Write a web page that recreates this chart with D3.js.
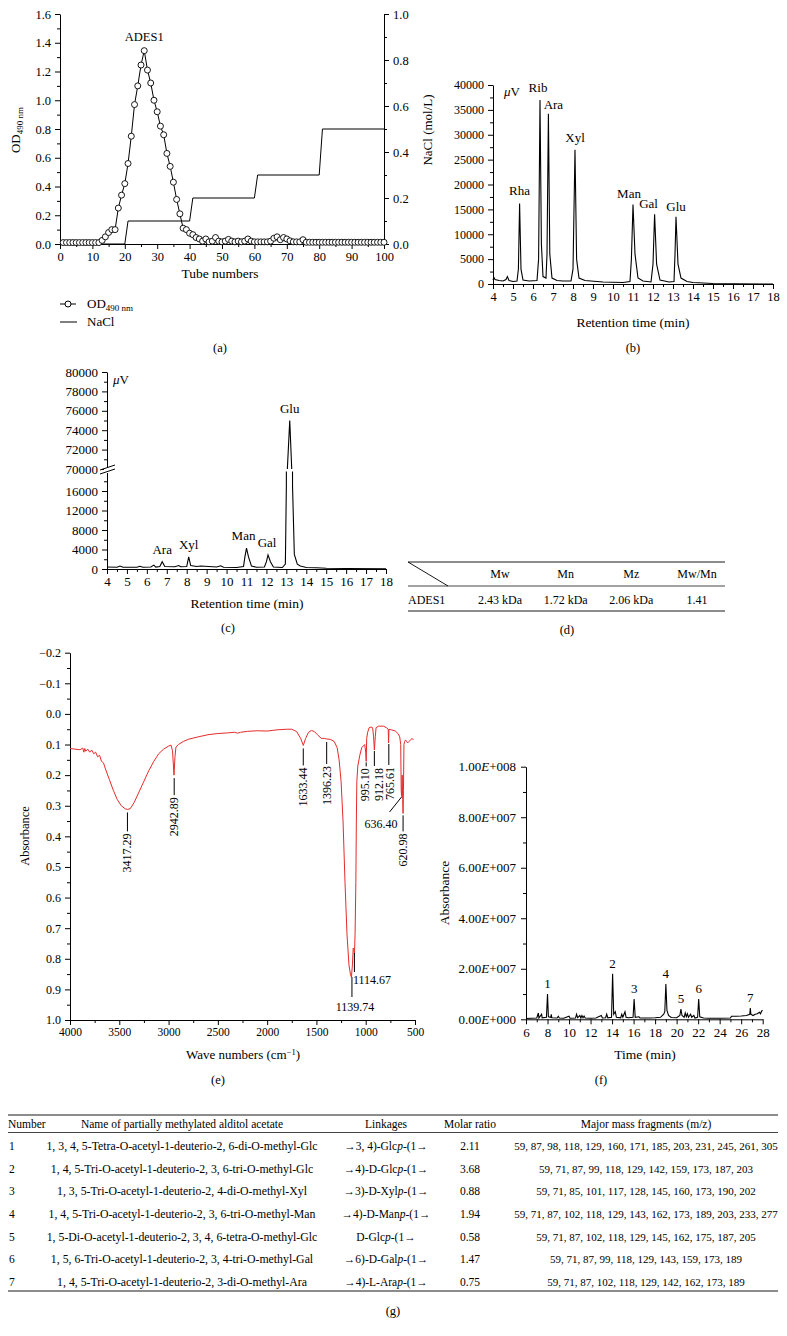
<!DOCTYPE html>
<html lang="en">
<head>
<meta charset="UTF-8">
<title>ADES1 characterisation</title>
<script src="https://d3js.org/d3.v7.min.js"></script>
<style>
  body { margin: 0; background: #fff; }
  svg { display: block; }
</style>
</head>
<body>
<script>
// ---------- (a) elution profile ----------
var odTubes = d3.range(1, 101);
var odValues = [0.01, 0.01, 0.01, 0.01, 0.01, 0.01, 0.01, 0.01, 0.01, 0.01,
  0.01, 0.01, 0.025, 0.05, 0.08, 0.10, 0.10, 0.25, 0.34, 0.42,
  0.56, 0.75, 0.97, 1.10, 1.245, 1.345, 1.21, 1.12, 1.00, 0.92,
  0.82, 0.76, 0.63, 0.54, 0.43, 0.31, 0.21, 0.11, 0.10, 0.075,
  0.065, 0.045, 0.035, 0.02, 0.035, 0.015, 0.02, 0.045, 0.02, 0.015,
  0.02, 0.032, 0.02, 0.015, 0.02, 0.015, 0.02, 0.035, 0.02, 0.015,
  0.015, 0.015, 0.015, 0.015, 0.02, 0.04, 0.05, 0.03, 0.045, 0.035,
  0.022, 0.015, 0.015, 0.015, 0.03, 0.012, 0.012, 0.012, 0.012, 0.012,
  0.012, 0.012, 0.012, 0.012, 0.012, 0.012, 0.012, 0.012, 0.012, 0.012,
  0.012, 0.012, 0.012, 0.012, 0.012, 0.012, 0.012, 0.012, 0.012, 0.012];
var naclTubes = [0, 20, 21, 40, 41, 60, 61, 80, 81, 100];
var naclConc = [0, 0, 0.1, 0.1, 0.2, 0.2, 0.3, 0.3, 0.5, 0.5];

// ---------- (b) monosaccharide standards ----------
var stdTime = [4.0, 4.05, 4.1, 4.3, 4.5, 4.65, 4.72, 4.8, 5.0, 5.2, 5.27, 5.33, 5.4, 5.5, 5.8,
  6.2, 6.28, 6.35, 6.42, 6.5, 6.65, 6.7, 6.77, 6.84, 6.95, 7.2, 7.5, 7.9, 8.0, 8.1, 8.18, 8.3,
  8.6, 9.5, 10.5, 10.85, 10.92, 11.0, 11.1, 11.25, 11.5, 11.9, 12.0, 12.08, 12.18, 12.35, 12.8,
  13.05, 13.1, 13.15, 13.25, 13.4, 13.7, 14.0, 15.0, 16.0, 18.0];
var stdSignal = [800, 1300, 900, 700, 600, 900, 1500, 700, 500, 600, 3000, 16200, 3000, 800, 600,
  700, 5000, 37000, 8000, 1500, 1200, 6000, 34200, 6000, 1200, 700, 600, 600, 3000, 27000, 5000, 1200,
  700, 400, 300, 500, 5000, 16000, 6000, 1200, 600, 400, 4000, 14000, 4000, 800, 400,
  500, 6000, 13500, 4000, 1200, 500, 300, 100, 50, 0];
var stdNames = ["Rha", "Rib", "Ara", "Xyl", "Man", "Gal", "Glu"];
var stdPeakTime = [5.33, 6.35, 6.77, 8.1, 11.0, 12.08, 13.15];
var stdPeakSignal = [16200, 37000, 34200, 27000, 16000, 14000, 13500];

// ---------- (c) ADES1 hydrolysate ----------
var sampTime = [4.0, 4.5, 4.65, 4.8, 5.5, 5.65, 5.8, 6.2, 6.35, 6.45, 6.65, 6.77, 6.9, 7.4, 7.6, 7.7,
  8.0, 8.1, 8.2, 8.5, 8.7, 9.5, 9.7, 9.85, 10.5, 10.85, 10.92, 11.0, 11.1, 11.25, 11.5, 11.9, 12.0,
  12.08, 12.2, 12.35, 12.8, 12.95, 13.0, 13.02, 13.05, 13.17, 13.27, 13.29, 13.31, 13.4, 13.55,
  13.7, 14.0, 14.5, 15.0, 16.0, 18.0];
var sampSignal = [400, 350, 600, 350, 350, 550, 350, 400, 800, 400, 500, 1500, 500, 450, 700, 450,
  500, 2500, 700, 500, 600, 400, 650, 350, 300, 500, 2500, 4300, 2500, 600, 350, 400, 1500,
  2900, 1500, 400, 300, 1000, 17000, 60000, 70000, 75000, 70000, 60000, 17000, 3000, 1000,
  600, 300, 250, 150, 100, 50];
var sampNames = ["Ara", "Xyl", "Man", "Gal", "Glu"];
var sampPeakTime = [6.77, 8.1, 11.0, 12.08, 13.17];
var sampPeakSignal = [1500, 2500, 4300, 2900, 75000];

// ---------- (d) molecular weight ----------
var mwHeaders = ["Mw", "Mn", "Mz", "Mw/Mn"];
var mwValues = ["2.43 kDa", "1.72 kDa", "2.06 kDa", "1.41"];

// ---------- (e) FT-IR ----------
var irWave = [4000, 3950, 3900, 3870, 3860, 3850, 3840, 3820, 3800, 3780, 3760, 3740, 3720, 3700,
  3680, 3660, 3640, 3600, 3560, 3520, 3480, 3440, 3417, 3390, 3350, 3300, 3250, 3200, 3150, 3100,
  3050, 3000, 2975, 2960, 2945, 2935, 2925, 2900, 2850, 2800, 2700, 2600, 2500, 2400, 2330, 2300,
  2270, 2200, 2100, 2000, 1950, 1900, 1800, 1750, 1700, 1660, 1633, 1610, 1580, 1550, 1520, 1490,
  1450, 1420, 1396, 1360, 1320, 1290, 1270, 1250, 1230, 1210, 1190, 1170, 1155, 1145, 1135, 1127,
  1120, 1114, 1108, 1100, 1095, 1090, 1080, 1060, 1040, 1010, 1000, 995, 990, 980, 965, 945, 930,
  920, 912, 903, 895, 870, 820, 790, 772, 768, 764, 740, 700, 670, 655, 645, 640, 636, 630, 625,
  621, 617, 612, 605, 595, 585, 575, 560, 545, 530, 517];
var irAbs = [0.113, 0.115, 0.117, 0.112, 0.125, 0.113, 0.122, 0.115, 0.125, 0.118, 0.13, 0.125, 0.14, 0.135,
  0.155, 0.16, 0.18, 0.215, 0.25, 0.28, 0.3, 0.31, 0.312, 0.31, 0.29, 0.255, 0.22, 0.185, 0.155, 0.13,
  0.115, 0.105, 0.102, 0.12, 0.2, 0.14, 0.108, 0.1, 0.09, 0.083, 0.075, 0.068, 0.064, 0.062, 0.06, 0.063,
  0.06, 0.057, 0.055, 0.056, 0.054, 0.052, 0.05, 0.05, 0.058, 0.08, 0.103, 0.08, 0.06, 0.054, 0.058, 0.068,
  0.08, 0.08, 0.082, 0.083, 0.09, 0.11, 0.15, 0.22, 0.35, 0.55, 0.72, 0.82, 0.85, 0.86, 0.82, 0.765,
  0.77, 0.785, 0.72, 0.55, 0.35, 0.22, 0.17, 0.135, 0.11, 0.1, 0.125, 0.155, 0.08, 0.06, 0.045, 0.043, 0.045,
  0.075, 0.118, 0.075, 0.045, 0.04, 0.04, 0.045, 0.05, 0.095, 0.05, 0.052, 0.056, 0.065, 0.075, 0.1, 0.25, 0.27, 0.2, 0.28,
  0.325, 0.25, 0.1, 0.09, 0.085, 0.09, 0.095, 0.09, 0.085, 0.08, 0.085];
var irLabels = ["3417.29", "2942.89", "1633.44", "1396.23", "995.10", "912.18", "765.61", "620.98"];
var irLabelAbs = [0.312, 0.2, 0.103, 0.082, 0.155, 0.118, 0.095, 0.325];
var irLabel636 = "636.40";
var irLabel1139 = "1139.74";
var irLabel1114 = "1114.67";

// ---------- (f) GC-MS ----------
var gcTime = [6.0, 6.5, 7.0, 7.15, 7.2, 7.45, 7.5, 7.9, 8.0, 8.08, 8.3, 8.35, 8.4, 8.9, 9.0, 9.1, 9.5,
  10.0, 10.1, 10.6, 10.7, 10.8, 11.0, 11.1, 11.2, 11.3, 11.4, 11.5, 12.0, 12.5, 13.0, 13.1, 13.4, 13.5,
  13.6, 13.95, 14.05, 14.15, 14.3, 14.4, 14.8, 14.9, 15.0, 15.2, 15.3, 15.5, 15.95, 16.05, 16.15, 16.5,
  16.6, 17.0, 17.5, 18.0, 18.5, 18.8, 18.9, 19.0, 19.1, 19.25, 19.5, 20.0, 20.3, 20.4, 20.5, 20.7, 20.8,
  20.9, 21.0, 21.1, 21.3, 21.4, 21.6, 21.7, 21.95, 22.05, 22.15, 22.5, 23.0, 24.0, 25.0, 25.1, 25.5, 26.0,
  26.5, 26.8, 26.85, 26.9, 27.1, 27.3, 27.5, 27.7, 27.8, 27.9, 28.0];
var gcAbs = [0.03e7, 0.04e7, 0.05e7, 0.25e7, 0.05e7, 0.2e7, 0.06e7, 0.08e7, 1.0e7, 0.1e7, 0.08e7, 0.2e7, 0.06e7, 0.05e7, 0.12e7, 0.05e7, 0.04e7,
  0.12e7, 0.04e7, 0.05e7, 0.2e7, 0.06e7, 0.15e7, 0.05e7, 0.15e7, 0.06e7, 0.13e7, 0.05e7, 0.04e7, 0.05e7, 0.15e7, 0.05e7, 0.06e7, 0.2e7,
  0.06e7, 0.08e7, 1.8e7, 0.2e7, 0.3e7, 0.08e7, 0.06e7, 0.2e7, 0.08e7, 0.3e7, 0.08e7, 0.06e7, 0.08e7, 0.8e7, 0.08e7, 0.1e7,
  0.05e7, 0.05e7, 0.05e7, 0.06e7, 0.08e7, 0.2e7, 0.3e7, 1.4e7, 0.35e7, 0.15e7, 0.07e7, 0.06e7, 0.15e7, 0.4e7, 0.15e7, 0.08e7, 0.25e7,
  0.1e7, 0.22e7, 0.08e7, 0.2e7, 0.08e7, 0.15e7, 0.05e7, 0.08e7, 0.8e7, 0.1e7, 0.05e7, 0.04e7, 0.04e7, 0.05e7, 0.12e7, 0.12e7, 0.13e7,
  0.15e7, 0.2e7, 0.45e7, 0.2e7, 0.15e7, 0.2e7, 0.22e7, 0.28e7, 0.22e7, 0.33e7, 0.35e7];
var gcPeakNo = ["1", "2", "3", "4", "5", "6", "7"];
var gcPeakTime = [8.0, 14.05, 16.05, 19.0, 20.4, 22.05, 26.85];
var gcPeakAbs = [1.0e7, 1.8e7, 0.8e7, 1.4e7, 0.4e7, 0.8e7, 0.45e7];

// ---------- (g) methylation table ----------
var gNumbers = ["1", "2", "3", "4", "5", "6", "7"];
var gNames = [
  "1, 3, 4, 5-Tetra-O-acetyl-1-deuterio-2, 6-di-O-methyl-Glc",
  "1, 4, 5-Tri-O-acetyl-1-deuterio-2, 3, 6-tri-O-methyl-Glc",
  "1, 3, 5-Tri-O-acetyl-1-deuterio-2, 4-di-O-methyl-Xyl",
  "1, 4, 5-Tri-O-acetyl-1-deuterio-2, 3, 6-tri-O-methyl-Man",
  "1, 5-Di-O-acetyl-1-deuterio-2, 3, 4, 6-tetra-O-methyl-Glc",
  "1, 5, 6-Tri-O-acetyl-1-deuterio-2, 3, 4-tri-O-methyl-Gal",
  "1, 4, 5-Tri-O-acetyl-1-deuterio-2, 3-di-O-methyl-Ara"];
var gLinkages = ["\u21923, 4)-Glc", "\u21924)-D-Glc", "\u21923)-D-Xyl", "\u21924)-D-Man", "D-Glc", "\u21926)-D-Gal", "\u21924)-L-Ara"];
var gMolar = ["2.11", "3.68", "0.88", "1.94", "0.58", "1.47", "0.75"];
var gFragments = [
  "59, 87, 98, 118, 129, 160, 171, 185, 203, 231, 245, 261, 305",
  "59, 71, 87, 99, 118, 129, 142, 159, 173, 187, 203",
  "59, 71, 85, 101, 117, 128, 145, 160, 173, 190, 202",
  "59, 71, 87, 102, 118, 129, 143, 162, 173, 189, 203, 233, 277",
  "59, 71, 87, 102, 118, 129, 145, 162, 175, 187, 205",
  "59, 71, 87, 99, 118, 129, 143, 159, 173, 189",
  "59, 71, 87, 102, 118, 129, 142, 162, 173, 189"];
var gHeaders = ["Number", "Name of partially methylated alditol acetate", "Linkages", "Molar ratio", "Major mass fragments (m/z)"];

var W = 787, H = 1336;
var svg = d3.select("body").append("svg")
  .attr("width", W).attr("height", H)
  .style("font-family", "'Liberation Serif', 'DejaVu Serif', serif")
  .style("font-size", "12px");
svg.append("rect").attr("width", W).attr("height", H).attr("fill", "#fff");

// axis helper: black lines, inherits serif font, optional tick font size
function drawAxis(axis, tx, ty, minor, fs) {
  var g = svg.append("g").attr("transform", "translate(" + tx + "," + ty + ")").call(axis);
  g.attr("font-family", null).attr("font-size", null);
  g.select(".domain").attr("stroke", "#000");
  g.selectAll(".tick line").attr("stroke", "#000");
  g.selectAll(".tick text").attr("fill", "#000").style("font-size", (fs || 12) + "px");
  if (minor) g.select(".domain").remove();
  return g;
}

function label(x, y, txt, anchor, size) {
  return svg.append("text").attr("x", x).attr("y", y)
    .attr("text-anchor", anchor || "middle")
    .style("font-size", (size || 12) + "px")
    .text(txt);
}

var fmt1 = d3.format(".1f");
var fmtInt = d3.format("d");

// ======================= (a) =======================
var xA = d3.scaleLinear().domain([0, 100]).range([60, 384]);
var yA = d3.scaleLinear().domain([0, 1.6]).range([244, 14]);
var yA2 = d3.scaleLinear().domain([0, 1]).range([244, 14]);

drawAxis(d3.axisBottom(xA).tickValues(d3.range(0, 101, 10)).tickSize(5).tickSizeOuter(0).tickPadding(3), 0, 244, false, 12.5);
drawAxis(d3.axisBottom(xA).tickValues(d3.range(5, 100, 10)).tickSize(3).tickFormat(""), 0, 244, true);
drawAxis(d3.axisLeft(yA).tickValues(d3.range(0, 1.61, 0.2)).tickFormat(fmt1).tickSize(5).tickSizeOuter(0).tickPadding(4), 60, 0, false, 12.5);
drawAxis(d3.axisLeft(yA).tickValues(d3.range(0.1, 1.6, 0.2)).tickSize(3).tickFormat(""), 60, 0, true);
drawAxis(d3.axisRight(yA2).tickValues(d3.range(0, 1.01, 0.2)).tickFormat(fmt1).tickSize(5).tickSizeOuter(0).tickPadding(4), 384, 0, false, 12.5);
drawAxis(d3.axisRight(yA2).tickValues(d3.range(0.1, 1, 0.2)).tickSize(3).tickFormat(""), 384, 0, true);

svg.append("path")
  .datum(naclTubes.map(function (t, i) { return [t, naclConc[i]]; }))
  .attr("fill", "none").attr("stroke", "#000").attr("stroke-width", 1)
  .attr("d", d3.line().x(function (d) { return xA(d[0]); }).y(function (d) { return yA2(d[1]); }));

var odData = odTubes.map(function (t, i) { return [t, odValues[i]]; });
svg.append("path").datum(odData)
  .attr("fill", "none").attr("stroke", "#000").attr("stroke-width", 1)
  .attr("d", d3.line().x(function (d) { return xA(d[0]); }).y(function (d) { return yA(d[1]); }));
svg.append("g").selectAll("circle").data(odData).enter().append("circle")
  .attr("cx", function (d) { return xA(d[0]); })
  .attr("cy", function (d) { return yA(d[1]); })
  .attr("r", 3).attr("fill", "#fff").attr("stroke", "#000").attr("stroke-width", 0.9);

label(xA(26), 41, "ADES1", "middle", 12.5);
label(220, 278, "Tube numbers", "middle", 13.5);

var odTitle = svg.append("text").attr("transform", "translate(20,130) rotate(-90)")
  .attr("text-anchor", "middle").style("font-size", "13px");
odTitle.append("tspan").text("OD");
odTitle.append("tspan").attr("dy", 3).style("font-size", "9px").text("490 nm");

svg.append("text").attr("transform", "translate(432,130) rotate(-90)")
  .attr("text-anchor", "middle").style("font-size", "13px").text("NaCl (mol/L)");

// legend
svg.append("line").attr("x1", 60).attr("x2", 76).attr("y1", 304).attr("y2", 304).attr("stroke", "#000");
svg.append("circle").attr("cx", 68).attr("cy", 304).attr("r", 3).attr("fill", "#fff").attr("stroke", "#000");
var lg = svg.append("text").attr("x", 87).attr("y", 308).style("font-size", "13px");
lg.append("tspan").text("OD");
lg.append("tspan").attr("dy", 3).style("font-size", "9px").text("490 nm");
svg.append("line").attr("x1", 60).attr("x2", 77).attr("y1", 322).attr("y2", 322).attr("stroke", "#000");
label(87, 326, "NaCl", "start", 13);
label(220, 352, "(a)", "middle", 12.5);

// ======================= (b) =======================
var xB = d3.scaleLinear().domain([4, 18]).range([493, 773]);
var yB = d3.scaleLinear().domain([0, 40000]).range([284, 85]);
drawAxis(d3.axisBottom(xB).tickValues(d3.range(4, 18.01, 1)).tickSize(5).tickSizeOuter(0).tickPadding(3), 0, 284, false, 12.5);
drawAxis(d3.axisBottom(xB).tickValues(d3.range(4.5, 18, 1)).tickSize(3).tickFormat(""), 0, 284, true);
drawAxis(d3.axisLeft(yB).tickValues(d3.range(0, 40001, 5000)).tickFormat(fmtInt).tickSize(5).tickSizeOuter(0).tickPadding(4), 493, 0, false, 12);
drawAxis(d3.axisLeft(yB).tickValues(d3.range(2500, 40000, 5000)).tickSize(3).tickFormat(""), 493, 0, true);

svg.append("path")
  .datum(stdTime.map(function (t, i) { return [t, stdSignal[i]]; }))
  .attr("fill", "none").attr("stroke", "#000").attr("stroke-width", 1.1)
  .attr("d", d3.line().x(function (d) { return xB(d[0]); }).y(function (d) { return yB(d[1]); }));

var stdDx = [0, -2, 5, 0, -4, -6, 0];
var stdDy = [-8, -8, -5, -8, -6, -6, -6];
stdNames.forEach(function (n, i) {
  label(xB(stdPeakTime[i]) + stdDx[i], yB(stdPeakSignal[i]) + stdDy[i], n, "middle", 13);
});
var muB = svg.append("text").attr("x", 504).attr("y", 96).style("font-size", "13px");
muB.append("tspan").style("font-style", "italic").text("\u03bc");
muB.append("tspan").text("V");
label(633, 327, "Retention time (min)", "middle", 13.5);
label(633, 352, "(b)", "middle", 12.5);

// ======================= (c) =======================
var xC = d3.scaleLinear().domain([4, 18]).range([107, 386]);
var yCLow = d3.scaleLinear().domain([0, 20000]).range([569, 471.5]);
var yCHigh = d3.scaleLinear().domain([70000, 80000]).range([469, 372]);
drawAxis(d3.axisBottom(xC).tickValues(d3.range(4, 18.01, 1)).tickSize(5).tickSizeOuter(0).tickPadding(3), 0, 569, false, 13);
drawAxis(d3.axisBottom(xC).tickValues(d3.range(4.5, 18, 1)).tickSize(3).tickFormat(""), 0, 569, true);
drawAxis(d3.axisLeft(yCLow).tickValues(d3.range(0, 16001, 4000)).tickFormat(fmtInt).tickSize(5).tickSizeOuter(0).tickPadding(4), 107, 0, false, 13);
drawAxis(d3.axisLeft(yCLow).tickValues(d3.range(2000, 19000, 4000)).tickSize(3).tickFormat(""), 107, 0, true);
drawAxis(d3.axisLeft(yCHigh).tickValues(d3.range(70000, 80001, 2000)).tickFormat(fmtInt).tickSize(5).tickSizeOuter(0).tickPadding(4), 107, 0, false, 13);
drawAxis(d3.axisLeft(yCHigh).tickValues(d3.range(71000, 80000, 2000)).tickSize(3).tickFormat(""), 107, 0, true);
// axis break marks
svg.append("rect").attr("x", 104).attr("y", 467.5).attr("width", 7).attr("height", 5.5).attr("fill", "#fff");
[0, 4].forEach(function (o) {
  svg.append("line").attr("x1", 100).attr("x2", 115).attr("y1", 470 + o).attr("y2", 465 + o)
    .attr("stroke", "#000").attr("stroke-width", 1);
});

var defs = svg.append("defs");
defs.append("clipPath").attr("id", "clipLow").append("rect")
  .attr("x", 107).attr("y", 471.5).attr("width", 280).attr("height", 98);
defs.append("clipPath").attr("id", "clipHigh").append("rect")
  .attr("x", 107).attr("y", 370).attr("width", 280).attr("height", 99);
var sampData = sampTime.map(function (t, i) { return [t, sampSignal[i]]; });
[[yCLow, "clipLow"], [yCHigh, "clipHigh"]].forEach(function (p) {
  svg.append("path").datum(sampData)
    .attr("clip-path", "url(#" + p[1] + ")")
    .attr("fill", "none").attr("stroke", "#000").attr("stroke-width", 1.1)
    .attr("d", d3.line().x(function (d) { return xC(d[0]); }).y(function (d) { return p[0](d[1]); }));
});
var sampDx = [0, 0, -3, -1, 0];
sampNames.forEach(function (n, i) {
  var y = sampPeakSignal[i] > 20000 ? yCHigh(sampPeakSignal[i]) : yCLow(sampPeakSignal[i]);
  label(xC(sampPeakTime[i]) + sampDx[i], y - 8, n, "middle", 13);
});
var muC = svg.append("text").attr("x", 113).attr("y", 384).style("font-size", "13px");
muC.append("tspan").style("font-style", "italic").text("\u03bc");
muC.append("tspan").text("V");
label(247, 608, "Retention time (min)", "middle", 13.5);
label(228, 632, "(c)", "middle", 12.5);

// ======================= (d) =======================
var dCol = d3.scalePoint().domain(mwHeaders).range([500, 697]);
svg.append("line").attr("x1", 408).attr("x2", 725).attr("y1", 562).attr("y2", 562).attr("stroke", "#666").attr("stroke-width", 1.5);
svg.append("line").attr("x1", 408).attr("x2", 725).attr("y1", 586).attr("y2", 586).attr("stroke", "#444").attr("stroke-width", 1);
svg.append("line").attr("x1", 408).attr("x2", 725).attr("y1", 611).attr("y2", 611).attr("stroke", "#666").attr("stroke-width", 1.5);
svg.append("line").attr("x1", 408).attr("x2", 448).attr("y1", 562).attr("y2", 586).attr("stroke", "#000").attr("stroke-width", 0.9);
mwHeaders.forEach(function (h, i) {
  label(dCol(h), 578, h, "middle", 12);
  label(dCol(h), 604, mwValues[i], "middle", 12);
});
label(408, 604, "ADES1", "start", 12);
label(567, 634, "(d)", "middle", 12.5);

// ======================= (e) =======================
var xE = d3.scaleLinear().domain([4000, 500]).range([70, 415]);
var yE = d3.scaleLinear().domain([-0.2, 1.0]).range([652.7, 1020]);
drawAxis(d3.axisBottom(xE).tickValues(d3.range(4000, 499, -500)).tickFormat(fmtInt).tickSize(5).tickSizeOuter(0).tickPadding(3), 0, 1020, false, 11.5);
drawAxis(d3.axisBottom(xE).tickValues(d3.range(3750, 500, -500)).tickSize(3).tickFormat(""), 0, 1020, true);
drawAxis(d3.axisLeft(yE).tickValues(d3.range(-2, 11, 1).map(function (v) { return v / 10; }))
  .tickFormat(fmt1).tickSize(5).tickSizeOuter(0).tickPadding(4), 70, 0, false, 12);
drawAxis(d3.axisLeft(yE).tickValues(d3.range(-15, 100, 10).map(function (v) { return v / 100; }))
  .tickSize(3).tickFormat(""), 70, 0, true);

svg.append("path")
  .datum(irWave.map(function (w, i) { return [w, irAbs[i]]; }))
  .attr("fill", "none").attr("stroke", "#e52b2b").attr("stroke-width", 1)
  .attr("d", d3.line().x(function (d) { return xE(+d[0]); }).y(function (d) { return yE(d[1]); }));

var irGap = [3, 3, 3, 3, 1, 1, 1, 2];
var irLen = [19, 17, 17, 22, 4, 15, 21, 16];
var irTxtDx = [4, 4, 4, 4, 3, 8.5, 5, 4];
irLabels.forEach(function (t, i) {
  var x = xE(+t), y0 = yE(irLabelAbs[i]) + irGap[i], y1 = y0 + irLen[i];
  svg.append("line").attr("x1", x).attr("x2", x).attr("y1", y0).attr("y2", y1).attr("stroke", "#000");
  svg.append("text").attr("transform", "translate(" + (x + irTxtDx[i]) + "," + (y1 + 2) + ") rotate(-90)")
    .attr("text-anchor", "end").style("font-size", "12px").text(t);
});
svg.append("line").attr("x1", xE(636.4)).attr("y1", 797).attr("x2", xE(636.4) - 12).attr("y2", 812).attr("stroke", "#000");
label(381, 828, irLabel636, "middle", 12);
svg.append("line").attr("x1", xE(1139.74)).attr("x2", xE(1139.74)).attr("y1", 977).attr("y2", 997).attr("stroke", "#000");
label(355, 1011, irLabel1139, "middle", 12);
svg.append("line").attr("x1", xE(1114.67)).attr("x2", xE(1114.67)).attr("y1", 953).attr("y2", 972).attr("stroke", "#000");
label(353, 984, irLabel1114, "start", 12);

svg.append("text").attr("transform", "translate(29,836) rotate(-90)")
  .attr("text-anchor", "middle").style("font-size", "12.5px").text("Absorbance");
var wn = svg.append("text").attr("x", 243).attr("y", 1059).attr("text-anchor", "middle").style("font-size", "13px");
wn.append("tspan").text("Wave numbers (cm");
wn.append("tspan").attr("dy", -4).style("font-size", "8.5px").text("\u22121");
wn.append("tspan").attr("dy", 4).text(")");
label(218, 1084, "(e)", "middle", 12.5);

// ======================= (f) =======================
var xF = d3.scaleLinear().domain([6, 28]).range([526, 762.7]);
var yF = d3.scaleLinear().domain([0, 1e8]).range([1019.3, 766.7]);
drawAxis(d3.axisBottom(xF).tickValues(d3.range(6, 28.01, 2)).tickSize(5).tickSizeOuter(0).tickPadding(3), 0, 1019.3, false, 13);
drawAxis(d3.axisBottom(xF).tickValues(d3.range(7, 28, 2)).tickSize(3).tickFormat(""), 0, 1019.3, true);
var fy = drawAxis(d3.axisLeft(yF).tickValues(d3.range(0, 1e8 + 1, 2e7)).tickSize(5).tickSizeOuter(0).tickPadding(5), 526, 0, false, 13);
drawAxis(d3.axisLeft(yF).tickValues(d3.range(1e7, 1e8, 2e7)).tickSize(3).tickFormat(""), 526, 0, true);
fy.selectAll(".tick text").each(function (d) {
  var e = d === 0 ? 0 : Math.floor(Math.log10(d) + 1e-9);
  var m = d / Math.pow(10, e);
  var t = d3.select(this).text(null);
  t.append("tspan").text(m.toFixed(2));
  t.append("tspan").style("font-style", "italic").text("E");
  t.append("tspan").text("+" + d3.format("03d")(e));
});

svg.append("path")
  .datum(gcTime.map(function (t, i) { return [t, gcAbs[i]]; }))
  .attr("fill", "none").attr("stroke", "#000").attr("stroke-width", 1.1)
  .attr("d", d3.line().x(function (d) { return xF(d[0]); }).y(function (d) { return yF(d[1]); }));
gcPeakNo.forEach(function (n, i) {
  label(xF(gcPeakTime[i]), yF(gcPeakAbs[i]) - 6, n, "middle", 13);
});
svg.append("text").attr("transform", "translate(449,893) rotate(-90)")
  .attr("text-anchor", "middle").style("font-size", "13.5px").text("Absorbance");
label(645, 1059, "Time (min)", "middle", 13.5);
label(601, 1084, "(f)", "middle", 12.5);

// ======================= (g) =======================
var gColX = [8, 182, 386, 470, 646];
var gAnchor = ["start", "middle", "middle", "middle", "middle"];
var gRow = d3.scalePoint().domain(gNumbers).range([1146, 1282]);
svg.append("line").attr("x1", 8).attr("x2", 778).attr("y1", 1115).attr("y2", 1115).attr("stroke", "#666").attr("stroke-width", 1.5);
svg.append("line").attr("x1", 8).attr("x2", 778).attr("y1", 1132.5).attr("y2", 1132.5).attr("stroke", "#444").attr("stroke-width", 1);
svg.append("line").attr("x1", 8).attr("x2", 778).attr("y1", 1291).attr("y2", 1291).attr("stroke", "#666").attr("stroke-width", 1.5);
gHeaders.forEach(function (h, i) { label(gColX[i], 1128, h, gAnchor[i], 11.5); });
gNumbers.forEach(function (n, i) {
  var y = gRow(n) + 4;
  label(gColX[0] + 1, y, n, "start", 11.5);
  label(gColX[1], y, gNames[i], "middle", 11.8);
  var lk = svg.append("text").attr("x", gColX[2]).attr("y", y).attr("text-anchor", "middle").style("font-size", "11.5px");
  lk.append("tspan").text(gLinkages[i]);
  lk.append("tspan").style("font-style", "italic").text("p");
  lk.append("tspan").text("-(1\u2192");
  label(gColX[3], y, gMolar[i], "middle", 11.5);
  label(gColX[4], y, gFragments[i], "middle", 11);
});
label(393, 1315, "(g)", "middle", 12.5);
</script>
</body>
</html>
